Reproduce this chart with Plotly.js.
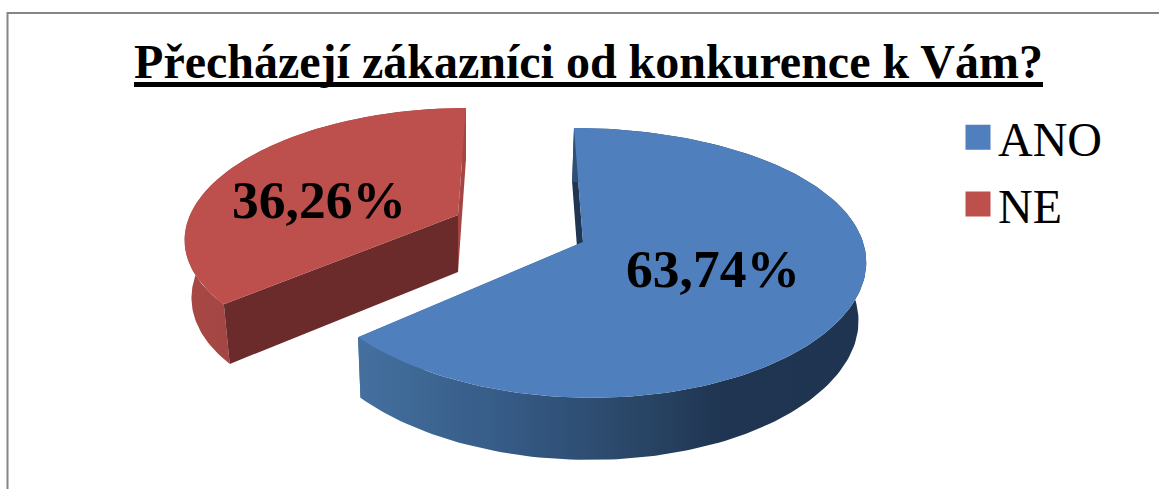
<!DOCTYPE html>
<html>
<head>
<meta charset="utf-8">
<script src="https://cdn.plot.ly/plotly-3.0.1.min.js"></script>
<style>html,body{margin:0;padding:0;background:#fff;overflow:hidden}</style>
</head>
<body>
<div id="chart" style="width:1159px;height:489px"></div>
<script>
var titleText = 'Přecházejí zákazníci od konkurence k Vám?';
var categories = ['ANO', 'NE'];
var values = [63.74, 36.26];
var topColors = ['#4f7fbc', '#bd4f4c'];

var total = values[0] + values[1];
var splitAngle = 2 * Math.PI * values[0] / total;

// Perspective view of a slice: unit-circle angle -> chart position
function view(o, a, rim) {
  var X = Math.sin(a) * rim, Y = Math.cos(a) * rim;
  return {
    x: o.ox + o.R * X / (1 + o.kx * Y) + o.lean * Y,
    y: o.oy - o.q * Y / (1 + 0.155 * Y),
    Y: Y
  };
}
function drop(o, p) {
  return {
    x: o.xc + (p.x - o.xc) * o.f,
    y: p.y + o.h * (1 - 0.07 * p.Y)
  };
}
function arc(o, a0, a1) {
  var pts = [], n = 160;
  for (var i = 0; i <= n; i++) pts.push(view(o, a0 + (a1 - a0) * i / n, 1));
  return pts;
}
function poly(pts, color, gradient) {
  var t = {
    type: 'scatter', mode: 'lines', fill: 'toself', fillcolor: color,
    x: pts.map(function (p) { return p.x; }).concat([pts[0].x]),
    y: pts.map(function (p) { return p.y; }).concat([pts[0].y]),
    line: { width: 0, color: color }, showlegend: false, hoverinfo: 'skip'
  };
  if (gradient) t.fillgradient = gradient;
  return t;
}

var blue = { ox: 583, oy: 242, R: 280, q: 131.7, kx: 0.12, lean: -9, xc: 480, f: 0.98, h: 58 };
var red  = { ox: 458, oy: 215, R: 268, q: 123.6, kx: 0.17, lean: 8,  xc: 460, f: 0.975, h: 57 };

var blueArc = arc(blue, 0, splitAngle);
var redArc = arc(red, splitAngle, 2 * Math.PI);
var blueApex = { x: blue.ox, y: blue.oy, Y: 0 };
var redApex = { x: red.ox, y: red.oy, Y: 0 };

function wall(pts, o) {
  return pts.concat(pts.slice().reverse().map(function (p) { return drop(o, p); }));
}
function sideWall(o, apex, rimPoint) {
  return [apex, rimPoint, drop(o, rimPoint), drop(o, apex)];
}

var traces = [
  // red slice
  poly(wall(redArc, red), '#a34643', {
    type: 'horizontal', start: 184, stop: 300,
    colorscale: [[0, '#a84845'], [1, '#9c4340']]
  }),
  poly(sideWall(red, redApex, redArc[redArc.length - 1]), '#a34643'),
  poly(sideWall(red, redApex, redArc[0]), '#6b2b2b'),
  poly([redApex].concat(redArc), topColors[1]),
  // blue slice
  poly(sideWall(blue, blueApex, blueArc[0]), '#1f3552'),
  poly(sideWall(blue, blueApex, blueArc[blueArc.length - 1]), '#44709f'),
  poly(wall(blueArc, blue), '#2d4a6d', {
    type: 'horizontal', start: 357, stop: 866,
    colorscale: [[0, '#44709f'], [0.3, '#355a85'], [0.56, '#294565'], [0.72, '#1f3551'], [1, '#1f3450']]
  }),
  poly([blueApex].concat(blueArc), topColors[0])
];

// legend entries
categories.forEach(function (c, i) {
  traces.push({
    type: 'scatter', mode: 'markers', name: c, legendgroup: c,
    x: [null], y: [null],
    marker: { symbol: 'square', size: 16, color: topColors[i] }
  });
});

function pct(v) { return v.toFixed(2).replace('.', ',') + '%'; }

var layout = {
  width: 1159, height: 489,
  margin: { l: 0, r: 0, t: 0, b: 0 },
  paper_bgcolor: '#ffffff', plot_bgcolor: '#ffffff',
  font: { family: '"Liberation Serif", serif', color: '#000000' },
  title: {
    text: titleText,
    font: { family: '"Liberation Serif", serif', size: 48, weight: 700, color: '#000000' },
    x: 588.5 / 1159, xanchor: 'center', xref: 'paper',
    y: 1 - 61 / 489, yanchor: 'middle', yref: 'paper'
  },
  xaxis: { range: [0, 1159], visible: false, fixedrange: true },
  yaxis: { range: [489, 0], visible: false, fixedrange: true },
  showlegend: true,
  legend: {
    x: 958 / 1159, xanchor: 'left', y: 1 - 99.5 / 489, yanchor: 'top',
    bgcolor: 'rgba(0,0,0,0)', font: { size: 48, family: '"Liberation Serif", serif', color: '#000000' },
    itemwidth: 30, tracegroupgap: 1.5, itemclick: false, itemdoubleclick: false
  },
  shapes: [
    { type: 'rect', xref: 'x', yref: 'y', x0: 7.5, y0: 13, x1: 1175, y1: 505,
      line: { color: '#868686', width: 2 }, layer: 'below' },
    { type: 'line', xref: 'x', yref: 'y', x0: 134, x1: 1043, y0: 84.5, y1: 84.5,
      line: { color: '#000000', width: 5 }, layer: 'above' }
  ],
  annotations: [
    { x: 713, y: 269, text: '<b>' + pct(values[0]) + '</b>', showarrow: false, xanchor: 'center', yanchor: 'middle',
      font: { size: 53.5, family: '"Liberation Serif", serif', color: '#000000' } },
    { x: 318.5, y: 199.5, text: '<b>' + pct(values[1]) + '</b>', showarrow: false, xanchor: 'center', yanchor: 'middle',
      font: { size: 53.5, family: '"Liberation Serif", serif', color: '#000000' } }
  ]
};

Plotly.newPlot('chart', traces, layout, { staticPlot: true, displayModeBar: false }).then(function () {
  document.querySelectorAll('.legend .legendpoints path.scatterpts').forEach(function (p) {
    p.setAttribute('d', 'M12.5,12.5H-12.5V-12.5H12.5Z');
  });
});
</script>
</body>
</html>
